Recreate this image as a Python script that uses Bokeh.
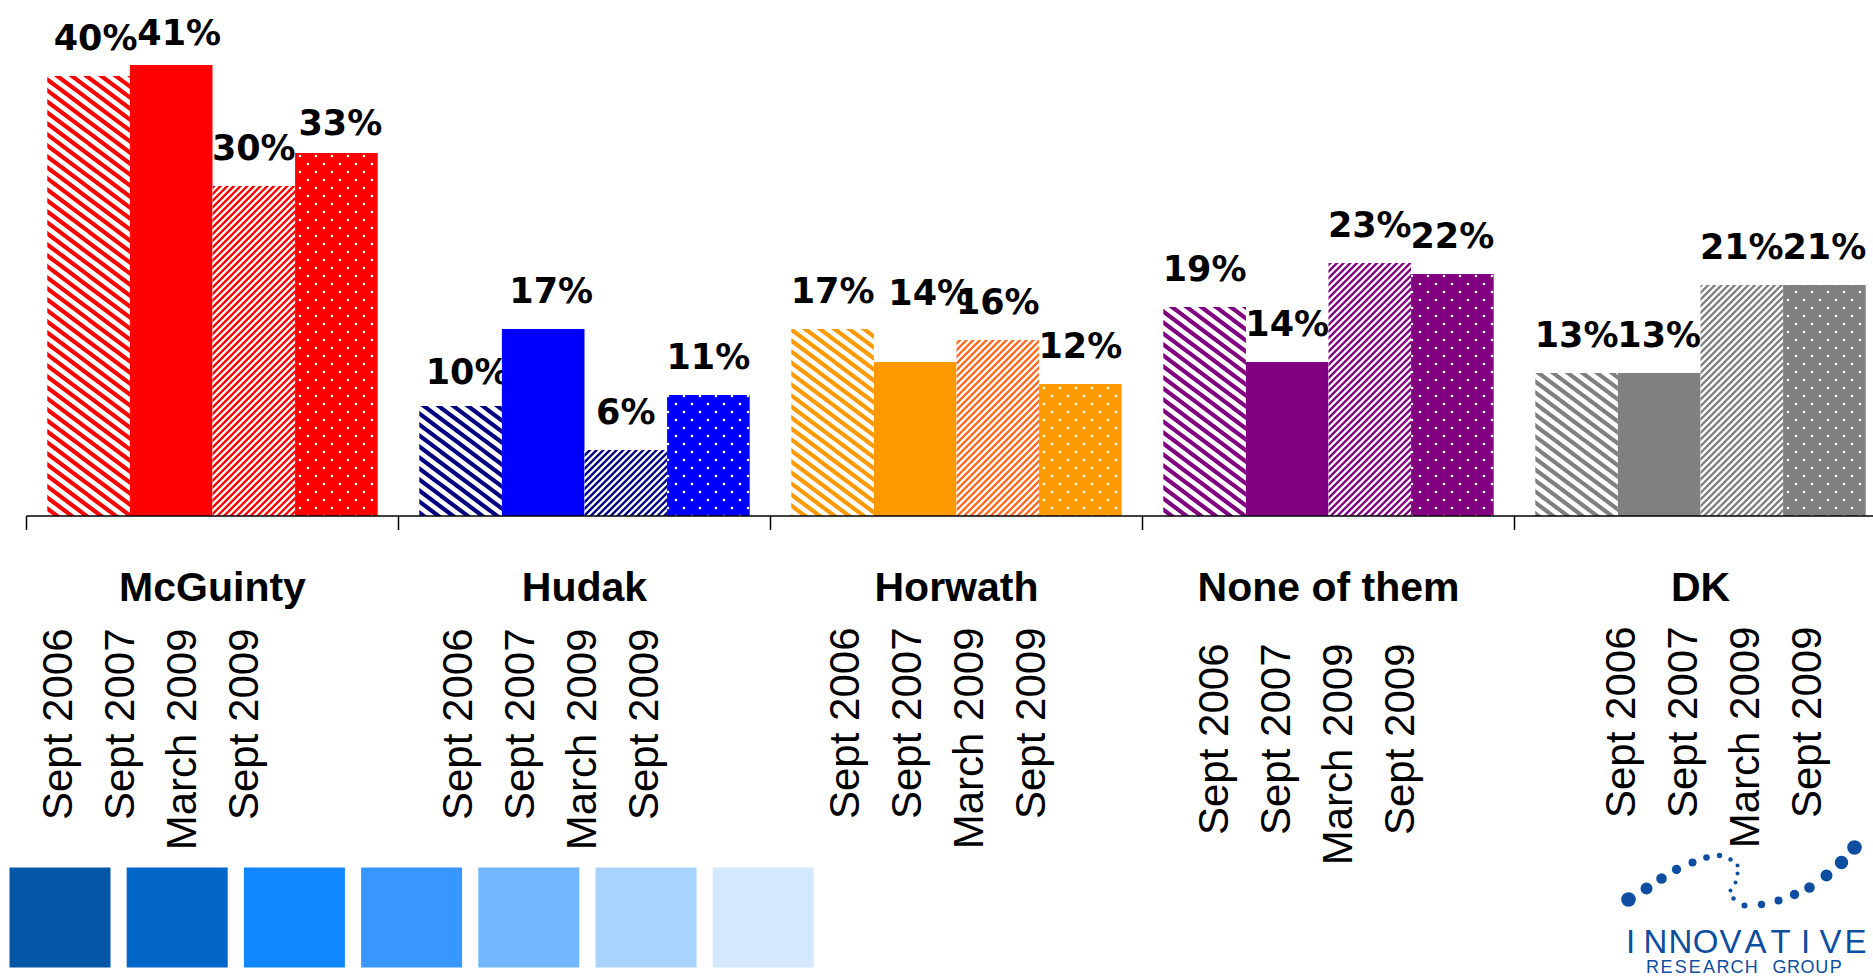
import math
from bokeh.plotting import figure
from bokeh.models import Range1d, ColumnDataSource, CanvasTexture
from bokeh.core.properties import value
from bokeh.embed import file_html
from bokeh.resources import INLINE

# ---------------- data ----------------
groups = ["McGuinty", "Hudak", "Horwath", "None of them", "DK"]
waves = ["Sept 2006", "Sept 2007", "March 2009", "Sept 2009"]
sept_2006 = [40, 10, 17, 19, 13]
sept_2007 = [41, 17, 14, 14, 13]
march_2009 = [30, 6, 16, 23, 21]
sept_2009 = [33, 11, 12, 22, 21]
series = [sept_2006, sept_2007, march_2009, sept_2009]

# ---------------- styles ----------------
solid_colors = ["#FF0000", "#0000FF", "#FF9900", "#800080", "#808080"]
stripe_colors = ["#FF0000", "#000080", "#FF9900", "#800080", "#808080"]
fine_colors = ["#FF0000", "#000080", "#FF6A20", "#800080", "#808080"]
swatch_colors = ["#0357A6", "#0366C9", "#1187FE", "#3797FE", "#72B6FE", "#A7D3FE", "#D4E8FE"]
logo_color = "#0D4EA0"

# ---------------- layout (pixels) ----------------
W, H = 1873, 980
G0_PX = 212.0          # x of first group centre
PERIOD_PX = 372.0      # px per group
BASE_PX = 515.5        # y of value 0
PX_PER_PCT = 11.0
BAR_W = 82.6 / PERIOD_PX

label_gap = -38
label_nudge_x = [[7, 8, 0, 4], [7, 8, 0, 0], [0, 15, 0, 0], [0, 0, 0, 0], [0, 0, 0, 0]]
label_nudge_y = [[0, 6, 0, 8], [4, 0, 0, 0], [0, -31, 0, 0], [0, 0, 0, 0], [0, 0, 0, 0]]
title_dy = 70.5
date_dx = [-155, -127.5, -112, -115.5, -80]
date_top = [628, 628, 627, 643, 626]
date_step = 62

x0 = (0 - G0_PX) / PERIOD_PX
x1 = (W - G0_PX) / PERIOD_PX
y_top = BASE_PX / PX_PER_PCT
y_bot = -(H - BASE_PX) / PX_PER_PCT

p = figure(width=W, height=H, output_backend="svg", toolbar_location=None,
           x_range=Range1d(x0, x1), y_range=Range1d(y_bot, y_top),
           x_axis_location=None, y_axis_location=None, min_border=0)
p.outline_line_color = None
p.background_fill_color = "white"
p.border_fill_color = "white"
p.extra_x_ranges = {"px": Range1d(0, W)}
p.extra_y_ranges = {"px": Range1d(H, 0)}
p.grid.visible = False


# ---------------- fill textures ----------------
def wide_stripes(color):
    code = f"""
const s = 44;
ctx.canvas.width = s;
ctx.canvas.height = s;
ctx.setTransform(1, 0, 0, 1, 0, 0);
ctx.clearRect(0, 0, s, s);
ctx.strokeStyle = "{color}";
ctx.lineWidth = 4.2;
ctx.beginPath();
for (let c = -2 * s; c <= 2 * s; c += 11) {{
  ctx.moveTo(-2, c - 1.5);
  ctx.lineTo(s + 2, c + 0.75 * (s + 2));
}}
ctx.stroke();
"""
    return CanvasTexture(code=code, repetition="repeat")


def fine_stripes(color):
    code = f"""
const s = 20;
const d = s / 3;
ctx.canvas.width = s;
ctx.canvas.height = s;
ctx.setTransform(1, 0, 0, 1, 0, 0);
ctx.clearRect(0, 0, s, s);
ctx.strokeStyle = "{color}";
ctx.lineWidth = 2.4;
ctx.beginPath();
for (let k = -3; k <= 9; k++) {{
  const c = k * d;
  ctx.moveTo(c + 2, -2);
  ctx.lineTo(c - s - 2, s + 2);
}}
ctx.stroke();
"""
    return CanvasTexture(code=code, repetition="repeat")


def dots():
    code = """
const s = 16;
ctx.canvas.width = s;
ctx.canvas.height = s;
ctx.setTransform(1, 0, 0, 1, 0, 0);
ctx.clearRect(0, 0, s, s);
ctx.fillStyle = "#FFFFFF";
const pts = [[s / 4, s / 4], [3 * s / 4, 3 * s / 4]];
for (const pt of pts) {
  ctx.beginPath();
  ctx.arc(pt[0], pt[1], 1.3, 0, 2 * Math.PI);
  ctx.fill();
}
"""
    return CanvasTexture(code=code, repetition="repeat")


n = len(groups)
styles = [
    dict(fill=["white"] * n, pat=[f"w{g}" for g in range(n)],
         extra={f"w{g}": wide_stripes(stripe_colors[g]) for g in range(n)}, scale=44),
    dict(fill=solid_colors, pat=None, extra=None, scale=None),
    dict(fill=["white"] * n, pat=[f"f{g}" for g in range(n)],
         extra={f"f{g}": fine_stripes(fine_colors[g]) for g in range(n)}, scale=20),
    dict(fill=solid_colors, pat=["d"] * n, extra={"d": dots()}, scale=16),
]

# ---------------- bars and value labels ----------------
for j, vals in enumerate(series):
    st = styles[j]
    xs = [g + (j - 1.5) * BAR_W for g in range(n)]
    data = dict(x=xs, top=vals, fill=st["fill"])
    kw = {}
    if st["pat"]:
        data["pat"] = st["pat"]
        kw = dict(hatch_pattern="pat", hatch_extra=st["extra"], hatch_scale=st["scale"])
    src = ColumnDataSource(data)
    p.vbar(x="x", top="top", bottom=0, width=BAR_W, source=src,
           fill_color="fill", line_color=None, **kw)

    lsrc = ColumnDataSource(dict(
        x=xs, y=vals, text=[f"{v}%" for v in vals],
        xo=[label_nudge_x[g][j] for g in range(n)],
        yo=[label_gap + label_nudge_y[g][j] for g in range(n)]))
    p.text(x="x", y="y", text="text", x_offset="xo", y_offset="yo", source=lsrc,
           text_font=value("DejaVu Sans"), text_font_style="bold",
           text_font_size="35px", text_align="center", text_baseline="alphabetic",
           text_color="black")

# ---------------- axis line and ticks ----------------
tick_pos = [g - 0.5 for g in range(n + 1)]
p.segment(x0=[-0.5], y0=[0], x1=[x1 + 1], y1=[0], line_color="black", line_width=1.5)
p.segment(x0=tick_pos, y0=[0] * len(tick_pos), x1=tick_pos,
          y1=[-14 / PX_PER_PCT] * len(tick_pos), line_color="black", line_width=1.5)

# ---------------- group names ----------------
p.text(x=list(range(n)), y=[0] * n, text=groups, y_offset=title_dy,
       text_font=value("Liberation Sans"), text_font_style="bold", text_font_size="41px",
       text_align="center", text_baseline="alphabetic", text_color="black")

# ---------------- rotated wave labels ----------------
dx, dy, dtext, dxo, dyo = [], [], [], [], []
for g in range(n):
    for j, w in enumerate(waves):
        dx.append(g)
        dy.append(0)
        dtext.append(w)
        dxo.append(date_dx[g] + date_step * j)
        dyo.append(date_top[g] - BASE_PX)
p.text(x=dx, y=dy, text=dtext, x_offset=dxo, y_offset=dyo, angle=math.pi / 2,
       text_font=value("Liberation Sans"), text_font_size="42px",
       text_align="right", text_baseline="alphabetic", text_color="black")

# ---------------- colour swatches (decoration) ----------------
sw_left, sw_pitch, sw_w, sw_top, sw_h = 9, 117.2, 101, 867, 100
p.rect(x=[sw_left + sw_w / 2 + k * sw_pitch for k in range(len(swatch_colors))],
       y=[sw_top + sw_h / 2] * len(swatch_colors), width=sw_w, height=sw_h,
       fill_color=swatch_colors, line_color=None,
       x_range_name="px", y_range_name="px")

# ---------------- logo (decoration) ----------------
logo_dots = [(1628, 899, 14.6), (1646, 888, 12), (1661, 878, 10.6), (1676, 869, 9.4),
             (1692, 862, 8), (1706, 857, 6.6), (1719, 855, 5.4), (1730, 859, 4.6),
             (1737, 865, 4), (1737, 873, 4), (1735, 882, 4), (1730, 890, 4),
             (1733, 898, 4.6), (1744, 905, 6), (1761, 904, 7.4), (1778, 900, 8),
             (1794, 894, 9.4), (1809, 887, 10.6), (1826, 875, 12), (1841, 862, 13.4),
             (1854, 847, 14.6)]
p.scatter(x=[d[0] for d in logo_dots], y=[d[1] for d in logo_dots],
          size=[d[2] for d in logo_dots], marker="circle", fill_color=logo_color,
          line_color=None, x_range_name="px", y_range_name="px")

word1 = "INNOVATIVE"
p.text(x=[1630 + 25.0 * k for k in range(len(word1))], y=[941] * len(word1),
       text=list(word1), text_font=value("Liberation Sans"), text_font_size="33px",
       text_align="center", text_baseline="alphabetic", text_color=logo_color,
       x_range_name="px", y_range_name="px")
word2 = "RESEARCH GROUP"
p.text(x=[1652 + 14.1 * k for k in range(len(word2))], y=[966] * len(word2),
       text=list(word2), text_font=value("Liberation Sans"), text_font_size="18px",
       text_align="center", text_baseline="alphabetic", text_color=logo_color,
       x_range_name="px", y_range_name="px")

open("out.html", "w").write(file_html(p, INLINE))
